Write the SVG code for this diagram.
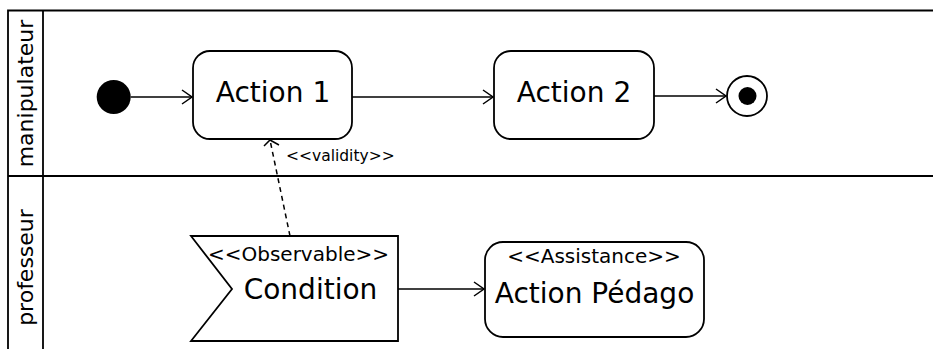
<svg xmlns="http://www.w3.org/2000/svg" width="933" height="349" viewBox="0 0 933 349">
<style>
.frame{fill:none;stroke:#000;stroke-width:1.8}
.node{fill:#fff;stroke:#000;stroke-width:1.8}
.conn{fill:none;stroke:#000;stroke-width:1.5}
.dash{fill:none;stroke:#000;stroke-width:1.5;stroke-dasharray:5 4}
.t{font-family:"DejaVu Sans",sans-serif;fill:#000;text-anchor:middle}
.big{font-size:28px}
.st{font-size:20px}
.lane{font-size:22px}
.lbl{font-size:15.5px;text-anchor:start}
</style>
<defs>
<marker id="open" markerWidth="12" markerHeight="16" viewBox="0 0 12 16" refX="11" refY="8" orient="auto" markerUnits="userSpaceOnUse">
<path d="M1,1 L11,8 L1,15" fill="none" stroke="#000" stroke-width="1.5"/>
</marker>
</defs>
<g id="lanes">
<path class="frame" d="M933,10.5 H8 V349 M43,10.5 V349 M8,176 H933"/>
<text class="t lane" transform="translate(33,93.5) rotate(-90)">manipulateur</text>
<text class="t lane" transform="translate(33,267.5) rotate(-90)">professeur</text>
</g>
<g id="connectors">
<line class="conn" x1="130.7" y1="97" x2="192" y2="97" marker-end="url(#open)"/>
<line class="conn" x1="352" y1="97" x2="493" y2="97" marker-end="url(#open)"/>
<line class="conn" x1="654" y1="96" x2="726" y2="96" marker-end="url(#open)"/>
<line class="conn" x1="398" y1="289" x2="484" y2="289" marker-end="url(#open)"/>
<line class="dash" x1="290" y1="236" x2="270" y2="140"/>
<path class="conn" d="M264,146 L270,140 L279,145"/>
<text class="t lbl" x="286" y="161">&lt;&lt;validity&gt;&gt;</text>
</g>
<g id="start">
<circle cx="113.7" cy="97" r="17" fill="#000"/>
</g>
<g id="action1">
<rect class="node" x="193" y="51" width="159" height="88" rx="17"/>
<text class="t big" x="273" y="102">Action 1</text>
</g>
<g id="action2">
<rect class="node" x="494" y="51" width="160" height="88" rx="17"/>
<text class="t big" x="574" y="102">Action 2</text>
</g>
<g id="end">
<circle class="node" cx="747" cy="96" r="20"/>
<circle cx="747.5" cy="96" r="9" fill="#000"/>
</g>
<g id="condition">
<path class="node" d="M191,236 H398 V341 H191 L232,289 Z"/>
<text class="t st" x="298.5" y="261">&lt;&lt;Observable&gt;&gt;</text>
<text class="t big" x="310.5" y="299">Condition</text>
</g>
<g id="actionPedago">
<rect class="node" x="485" y="242" width="219" height="95" rx="18"/>
<text class="t st" x="594" y="263">&lt;&lt;Assistance&gt;&gt;</text>
<text class="t big" x="594.5" y="303">Action Pédago</text>
</g>
</svg>
